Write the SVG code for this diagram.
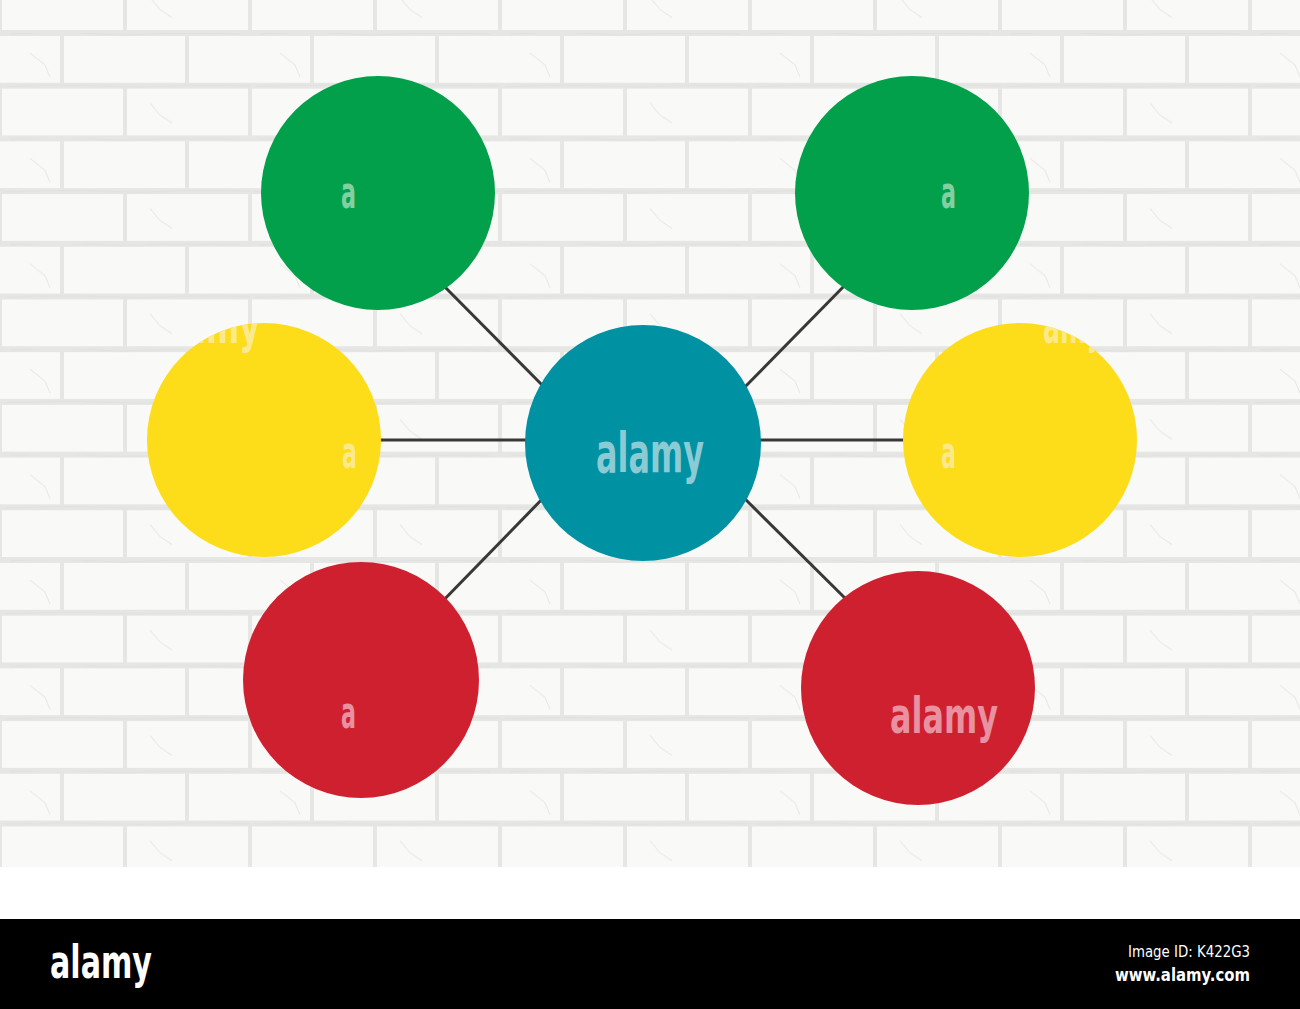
<svg xmlns="http://www.w3.org/2000/svg" width="1300" height="1009" viewBox="0 0 1300 1009">
  <defs>
    <pattern id="bricks" patternUnits="userSpaceOnUse" width="250" height="105.4" patternTransform="translate(0,33)">
      <rect width="250" height="105.4" fill="#f9f9f7"/>
      <g stroke="#e6e6e4" fill="none">
        <line x1="0" y1="0" x2="250" y2="0" stroke-width="6"/>
        <line x1="0" y1="52.7" x2="250" y2="52.7" stroke-width="6"/>
        <line x1="0" y1="105.4" x2="250" y2="105.4" stroke-width="6"/>
        <line x1="62" y1="0" x2="62" y2="52.7" stroke-width="4"/>
        <line x1="187" y1="0" x2="187" y2="52.7" stroke-width="4"/>
        <line x1="0" y1="52.7" x2="0" y2="105.4" stroke-width="4"/>
        <line x1="125" y1="52.7" x2="125" y2="105.4" stroke-width="4"/>
        <line x1="250" y1="52.7" x2="250" y2="105.4" stroke-width="4"/>
      </g>
      <g stroke="#dcdcda" stroke-width="1" fill="none" opacity="0.6">
        <path d="M10 1 L60 -1 L120 2 L180 0 L240 1"/>
        <path d="M5 53.5 L70 52 L140 54 L200 52 L250 53"/>
        <path d="M30 20 L45 32 L50 44"/>
        <path d="M150 70 L160 82 L172 90"/>
      </g>
    </pattern>
    <clipPath id="clipYL"><circle cx="264" cy="440" r="117"/></clipPath>
    <clipPath id="clipYR"><circle cx="1020" cy="440" r="117"/></clipPath>
    <style>
      .conn { stroke: #383838; stroke-width: 3; fill: none; }
      .green { fill: #02a04b; }
      .yellow { fill: #fddc1a; }
      .teal { fill: #0091a2; }
      .red { fill: #cf2030; }
      .wm { font-family: "Liberation Sans Narrow", "DejaVu Sans Condensed", "Liberation Sans", sans-serif; font-weight: bold; }
      .wmG { fill: #82d0a2; }
      .wmY { fill: #fbe98c; }
      .wmR { fill: #e891a0; }
      .wmT { fill: #8ccad4; }
      .bar { font-family: "Liberation Sans Narrow", "DejaVu Sans Condensed", "Liberation Sans", sans-serif; fill: #ffffff; }
    </style>
  </defs>

  <rect x="0" y="0" width="1300" height="1009" fill="#ffffff"/>
  <rect x="0" y="0" width="1300" height="867" fill="url(#bricks)"/>

  <g id="connectors">
    <line class="conn" x1="436" y1="278" x2="552" y2="395"/>
    <line class="conn" x1="853" y1="277" x2="736" y2="396"/>
    <line class="conn" x1="551" y1="490" x2="436" y2="608"/>
    <line class="conn" x1="736" y1="490" x2="855" y2="608"/>
    <line class="conn" x1="371" y1="440" x2="535" y2="440"/>
    <line class="conn" x1="751" y1="440" x2="913" y2="440"/>
  </g>

  <g id="node-center">
    <circle class="teal" cx="643" cy="443" r="118"/>
    <text class="wm wmT" x="596" y="472" font-size="56" textLength="108" lengthAdjust="spacingAndGlyphs">alamy</text>
  </g>

  <g id="node-top-left">
    <circle class="green" cx="378" cy="193" r="117"/>
    <text class="wm wmG" x="341" y="208" font-size="44" textLength="15" lengthAdjust="spacingAndGlyphs">a</text>
  </g>

  <g id="node-top-right">
    <circle class="green" cx="912" cy="193" r="117"/>
    <text class="wm wmG" x="941" y="208" font-size="44" textLength="15" lengthAdjust="spacingAndGlyphs">a</text>
  </g>

  <g id="node-left">
    <circle class="yellow" cx="264" cy="440" r="117"/>
    <text class="wm wmY" x="342" y="468" font-size="44" textLength="15" lengthAdjust="spacingAndGlyphs">a</text>
    <text class="wm wmY" x="152" y="343" font-size="50" textLength="108" lengthAdjust="spacingAndGlyphs" clip-path="url(#clipYL)">alamy</text>
  </g>

  <g id="node-right">
    <circle class="yellow" cx="1020" cy="440" r="117"/>
    <text class="wm wmY" x="941" y="468" font-size="44" textLength="15" lengthAdjust="spacingAndGlyphs">a</text>
    <text class="wm wmY" x="1043" y="343" font-size="50" textLength="60" lengthAdjust="spacingAndGlyphs" clip-path="url(#clipYR)">amy</text>
  </g>

  <g id="node-bottom-left">
    <circle class="red" cx="361" cy="680" r="118"/>
    <text class="wm wmR" x="341" y="728" font-size="44" textLength="15" lengthAdjust="spacingAndGlyphs">a</text>
  </g>

  <g id="node-bottom-right">
    <circle class="red" cx="918" cy="688" r="117"/>
    <text class="wm wmR" x="890" y="733" font-size="50" textLength="108" lengthAdjust="spacingAndGlyphs">alamy</text>
  </g>

  <g id="footer">
    <rect x="0" y="919" width="1300" height="90" fill="#000000"/>
    <text class="bar" x="50" y="978" font-size="46" font-weight="bold" textLength="102" lengthAdjust="spacingAndGlyphs">alamy</text>
    <text class="bar" x="1250" y="957" font-size="15" text-anchor="end" textLength="122" lengthAdjust="spacingAndGlyphs">Image ID: K422G3</text>
    <text class="bar" x="1250" y="981" font-size="17" font-weight="bold" text-anchor="end" textLength="135" lengthAdjust="spacingAndGlyphs">www.alamy.com</text>
  </g>
</svg>
